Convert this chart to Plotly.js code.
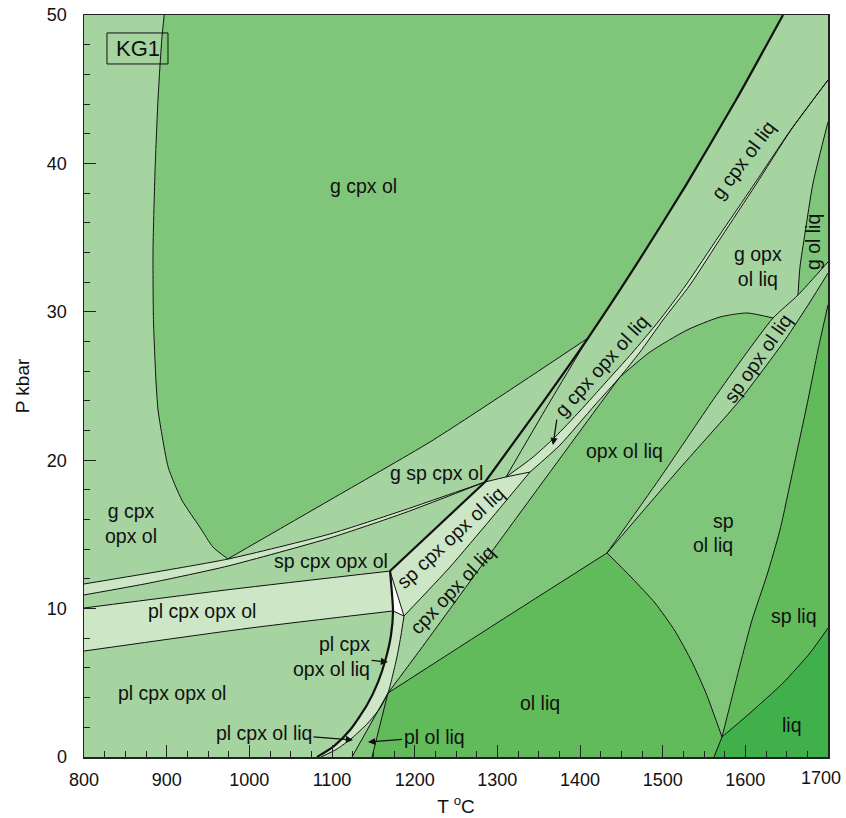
<!DOCTYPE html>
<html><head><meta charset="utf-8">
<script src="https://cdn.plot.ly/plotly-3.0.1.min.js"></script>
<style>html,body{margin:0;padding:0;background:#fff}</style>
</head><body><div id="chart" style="width:846px;height:818px"></div>
<script>
// ---- Axis ticks ----
const xTickVals = [800,900,1000,1100,1200,1300,1400,1500,1600];
const xTickText = ['800','900','1000','1100','1200','1300','1400','1500','1600'];
const xLastLabel = '1700';

// ---- Phase-boundary curves (T in degC, P in kbar) ----
const gcoLeftT = [897,894,889.5,886,883.5,884,887,889.5,894,902,918.5,940,956,974];
const gcoLeftP = [50,48.3,44.3,39.6,34.2,29.5,25.4,23.4,21.8,19.5,17.3,15.5,14.15,13.35];
const gcoBaseT = [974,1097.6,1218.6,1315.3,1409.7];
const gcoBaseP = [13.35,17.32,21.23,24.73,28.23];
const solidusT = [1645.6,1588.7,1528.2,1470.2,1409.7,1343.2,1285.1];
const solidusP = [50,44.27,38.54,33.36,28.23,22.98,18.53];
const thickMidT = [1285.1,1170.2];
const thickMidP = [18.53,12.53];
const thickLowT = [1170.2,1173.8,1171.4,1165.3,1155.7,1142.3,1121.8,1102.4,1081.9];
const thickLowP = [12.53,9.84,8.22,6.67,5.05,3.50,1.82,0.74,0];
const dblUpT = [800,879.8,974.2,1097.6,1187.1,1285.1];
const dblUpP = [11.66,12.40,13.34,15.03,16.64,18.53];
const dblLoT = [800,879.8,974.2,1097.6,1187.1,1285.1];
const dblLoP = [10.92,11.73,12.87,14.76,16.44,18.53];
const plTopT = [800,981.5,1170.2];
const plTopP = [10.04,11.32,12.53];
const plBotT = [800,1000.8,1173.8];
const plBotP = [7.14,8.69,9.84];
const wedgeT = [1170.2,1187.1];
const wedgeP = [12.53,9.50];
const whiteBaseT = [1173.8,1187.1];
const whiteBaseP = [9.84,9.50];
const p2LineT = [1187.1,1242.7,1291.1,1339.5];
const p2LineP = [9.50,12.80,15.97,19.20];
const topCapT = [1285.1,1310.5,1339.5];
const topCapP = [18.53,18.87,19.20];
const c4aT = [1700,1654.0,1609.3,1568.1,1528.2,1494.4,1462.9,1431.5,1400.0,1369.8,1341.9,1310.5];
const c4aP = [45.62,42.18,38.48,35.11,31.81,29.31,27.22,25.27,23.32,21.56,20.15,18.87];
const c4bT = [1339.5,1375.8,1418.1,1448.4,1472.6,1500.4,1533.1,1571.8,1611.7,1655.2,1700];
const c4bP = [19.20,21.02,23.72,25.61,27.29,29.45,31.81,35.11,38.48,42.25,45.62];
const steepT = [1167.7,1206.5,1239.1,1327.4,1427.8,1448.4];
const steepP = [4.31,7.21,9.70,16.44,24.06,25.61];
const opxTopT = [1448.4,1484.7,1529.4,1569.4,1602.0,1633.5];
const opxTopP = [25.61,27.29,28.77,29.65,29.92,29.58];
const lsp1T = [1432.7,1496.8,1560.9,1599.6,1633.5,1663.7,1700];
const lsp1P = [13.75,18.80,24.06,27.09,29.58,31.13,33.36];
const lsp2T = [1432.7,1521.0,1593.6,1648.0,1678.2,1700];
const lsp2P = [13.75,19.47,24.06,28.10,30.66,32.61];
const olTopT = [1167.7,1299.6,1432.7];
const olTopP = [4.31,9.03,13.75];
const olSpT = [1432.7,1462.9,1490.7,1514.9,1535.5,1552.4,1571.8];
const olSpP = [13.75,12.06,10.38,8.49,6.40,4.31,1.35];
const olFootT = [1571.8,1562.1];
const olFootP = [1.35,0];
const spLiqT = [1571.8,1581.5,1593.6,1608.1,1626.2,1641.9,1657.7,1675.8,1687.9,1700];
const spLiqP = [1.35,3.50,6.20,9.23,12.26,15.30,19.34,24.06,27.43,30.46];
const liqT = [1571.8,1605.6,1645.6,1678.2,1700];
const liqP = [1.35,2.96,4.99,7.01,8.69];
const gOlT = [1700,1681.9,1672.2,1666.1,1663.7];
const gOlP = [42.79,38.68,35.31,33.02,31.13];
const plSliverT = [1187.1,1183.5,1178.6,1172.6,1167.7,1158.1,1143.5,1124.2,1106.1,1086.7];
const plSliverP = [9.50,8.22,6.74,5.32,4.31,3.30,2.29,1.28,0.54,0];
const plCpxOutT = [1167.7,1124.2];
const plCpxOutP = [4.31,0];
const plOutT = [1167.7,1148.4];
const plOutP = [4.31,0];
const gspLiqT = [1409.7,1361.3,1310.5];
const gspLiqP = [28.23,23.72,18.87];

// ---- colours ----
const C0 = '#cde6c6', C1 = '#a6d4a0', C2 = '#80c67a', C3 = '#62bb5a', C4 = '#40b04a';

const rev = a => a.slice().reverse();
const cat = (...arrs) => [].concat(...arrs);

function region(xs, ys, color) {
  return {x: xs, y: ys, type: 'scatter', mode: 'lines', fill: 'toself', fillcolor: color,
          line: {width: 0, color: color}, hoverinfo: 'skip', showlegend: false};
}
function curve(xs, ys, w) {
  return {x: xs, y: ys, type: 'scatter', mode: 'lines',
          line: {width: w || 1, color: '#111', shape: 'spline', smoothing: 0.6},
          hoverinfo: 'skip', showlegend: false};
}

const traces = [
  region(cat(gcoLeftT, gcoBaseT.slice(1), rev(solidusT.slice(0,5))),
         cat(gcoLeftP, gcoBaseP.slice(1), rev(solidusP.slice(0,5))), C2),
  region(cat(steepT, opxTopT.slice(1), rev(lsp1T.slice(0,5)), rev(olTopT)),
         cat(steepP, opxTopP.slice(1), rev(lsp1P.slice(0,5)), rev(olTopP)), C2),
  region(cat(lsp2T, rev(spLiqT), rev(olSpT)), cat(lsp2P, rev(spLiqP), rev(olSpP)), C2),
  region(cat(gOlT, lsp1T.slice(5)), cat(gOlP, lsp1P.slice(5)), C2),
  region(cat(plCpxOutT, rev(plOutT)), cat(plCpxOutP, rev(plOutP)), C2),
  region(cat(olTopT, olSpT.slice(1), olFootT.slice(1), rev(plOutT)),
         cat(olTopP, olSpP.slice(1), olFootP.slice(1), rev(plOutP)), C3),
  region(cat(spLiqT, rev(liqT)), cat(spLiqP, rev(liqP)), C3),
  region(cat(rev(olFootT), liqT, [1700]), cat(rev(olFootP), liqP, [0]), C4),
  region(cat(plTopT, rev(plBotT)), cat(plTopP, rev(plBotP)), C0),
  region(cat(dblUpT, rev(dblLoT)), cat(dblUpP, rev(dblLoP)), C0),
  region(cat(thickMidT, wedgeT.slice(1), p2LineT.slice(1), rev(topCapT).slice(1)),
         cat(thickMidP, wedgeP.slice(1), p2LineP.slice(1), rev(topCapP).slice(1)), C0),
  region(cat(c4aT, topCapT.slice(2), c4bT.slice(1)), cat(c4aP, topCapP.slice(2), c4bP.slice(1)), C0),
  region(cat(thickLowT.slice(1), rev(plSliverT)), cat(thickLowP.slice(1), rev(plSliverP)), C0),
  region(cat(wedgeT, rev(whiteBaseT)), cat(wedgeP, rev(whiteBaseP)), '#ffffff'),
];

[[gcoLeftT,gcoLeftP],[gcoBaseT,gcoBaseP],[dblUpT,dblUpP],[dblLoT,dblLoP],[plTopT,plTopP],
 [plBotT,plBotP],[wedgeT,wedgeP],[whiteBaseT,whiteBaseP],[p2LineT,p2LineP],[topCapT,topCapP],
 [c4aT,c4aP],[c4bT,c4bP],[steepT,steepP],[opxTopT,opxTopP],[lsp1T,lsp1P],[lsp2T,lsp2P],
 [olTopT,olTopP],[olSpT,olSpP],[olFootT,olFootP],[spLiqT,spLiqP],[liqT,liqP],[gOlT,gOlP],
 [plSliverT,plSliverP],[plCpxOutT,plCpxOutP],[plOutT,plOutP],[gspLiqT,gspLiqP]
].forEach(c => traces.push(curve(c[0], c[1], 1)));
traces.push(curve(solidusT, solidusP, 2.2));
traces.push(curve(thickMidT, thickMidP, 2.2));
traces.push(curve(thickLowT, thickLowP, 2.2));

const FONT = 'Liberation Sans, Arial, sans-serif';
const FS = 19.5;
function lab(t, x, y, ang, xa) {
  return {text: t, x: x, y: y, xref: 'x', yref: 'y', showarrow: false, textangle: ang || 0,
          xanchor: xa || 'center', yanchor: 'middle', font: {family: FONT, size: FS, color: '#111'}};
}
// label with an arrow: (xTip,yTip) = arrow tip, (xTxt,yTxt) = label centre
function arrowLab(t, xTip, yTip, xTxt, yTxt, align) {
  return {text: t, x: xTip, y: yTip, ax: xTxt, ay: yTxt, xref: 'x', yref: 'y', axref: 'x', ayref: 'y',
          align: align || 'center', font: {family: FONT, size: FS, color: '#111'},
          showarrow: true, arrowhead: 2, arrowsize: 1.1, arrowwidth: 1.3, arrowcolor: '#111', standoff: 0};
}

const annotations = [
  {text: 'KG1', x: 865, y: 47.74, xref: 'x', yref: 'y', showarrow: false,
   font: {family: FONT, size: 22, color: '#111'}},
  lab('g cpx ol', 1137.5, 38.48),
  lab('g cpx<br>opx ol', 857, 15.74),
  lab('g sp cpx ol', 1227, 19.14),
  lab('sp cpx opx ol', 1099, 13.21),
  lab('pl cpx opx ol', 943, 9.84),
  lab('pl cpx opx ol', 906.5, 4.31),
  arrowLab('pl cpx<br>opx ol liq', 1167.7, 6.40, 1099.5, 6.77, 'right'),
  arrowLab('pl cpx ol liq', 1125.4, 1.15, 1017.7, 1.62),
  arrowLab('pl ol liq', 1143.5, 1.01, 1223.4, 1.35),
  lab('ol liq', 1351.6, 3.64),
  lab('liq', 1656.5, 2.16),
  lab('sp liq', 1659, 9.5),
  lab('sp', 1573, 15.9), lab('ol liq', 1561, 14.29),
  lab('opx ol liq', 1454.4, 20.62),
  lab('g opx<br>ol liq', 1615.3, 33.08),
  lab('g ol liq', 1681.9, 34.7, -90),
  lab('g cpx ol liq', 1597.2, 40.23, -53),
  lab('g cpx opx ol liq', 1425.4, 26.35, -48),
  lab('sp cpx opx ol liq', 1243.9, 14.82, -43),
  lab('cpx opx ol liq', 1245.2, 11.25, -46.5),
  lab('sp opx ol liq', 1615.3, 26.89, -55),
  // arrow from the "g cpx opx ol liq" label down into its sliver
  {text: '', x: 1367.3, y: 21.02, ax: 1372.2, ay: 22.84, xref: 'x', yref: 'y', axref: 'x', ayref: 'y',
   showarrow: true, arrowhead: 2, arrowsize: 1.1, arrowwidth: 1.3, arrowcolor: '#111', standoff: 0},
  // last x tick label, kept inside the page edge
  {text: xLastLabel, xref: 'paper', yref: 'paper', x: 1.0202, y: -0.0283, xanchor: 'right', yanchor: 'middle',
   showarrow: false, font: {family: FONT, size: 18, color: '#111'}},
];

const axisCommon = {
  showgrid: false, zeroline: false, showline: true, mirror: true, linecolor: '#222', linewidth: 1.5,
  ticks: 'inside', ticklen: 12, tickwidth: 1, tickcolor: '#222',
  tickfont: {family: FONT, size: 18, color: '#111'}
};

const layout = {
  width: 846, height: 818,
  margin: {l: 84, r: 18, t: 15, b: 61},
  paper_bgcolor: '#ffffff', plot_bgcolor: C1,
  showlegend: false,
  font: {family: FONT, color: '#111'},
  xaxis: Object.assign({}, axisCommon, {
    range: [800, 1700], tickmode: 'array', tickvals: xTickVals, ticktext: xTickText, ticklabelstandoff: 6,
    minor: {tick0: 800, dtick: 25, ticks: 'inside', ticklen: 6, tickcolor: '#222', tickwidth: 1, showgrid: false},
    title: {text: 'T <sup>o</sup>C', font: {family: FONT, size: 19, color: '#111'}, standoff: 10}
  }),
  yaxis: Object.assign({}, axisCommon, {
    range: [0, 50], tick0: 0, dtick: 10, ticklabelstandoff: 12,
    minor: {dtick: 2, ticks: 'inside', ticklen: 6, tickcolor: '#222', tickwidth: 1, showgrid: false},
    title: {text: 'P kbar', font: {family: FONT, size: 19, color: '#111'}, standoff: 12}
  }),
  shapes: [{type: 'rect', xref: 'x', yref: 'y', x0: 827.8, x1: 901.6, y0: 46.70, y1: 48.79,
            line: {color: '#111', width: 1}, fillcolor: 'rgba(0,0,0,0)'}],
  annotations: annotations
};

Plotly.newPlot('chart', traces, layout, {displayModeBar: false, staticPlot: true});
</script></body></html>
